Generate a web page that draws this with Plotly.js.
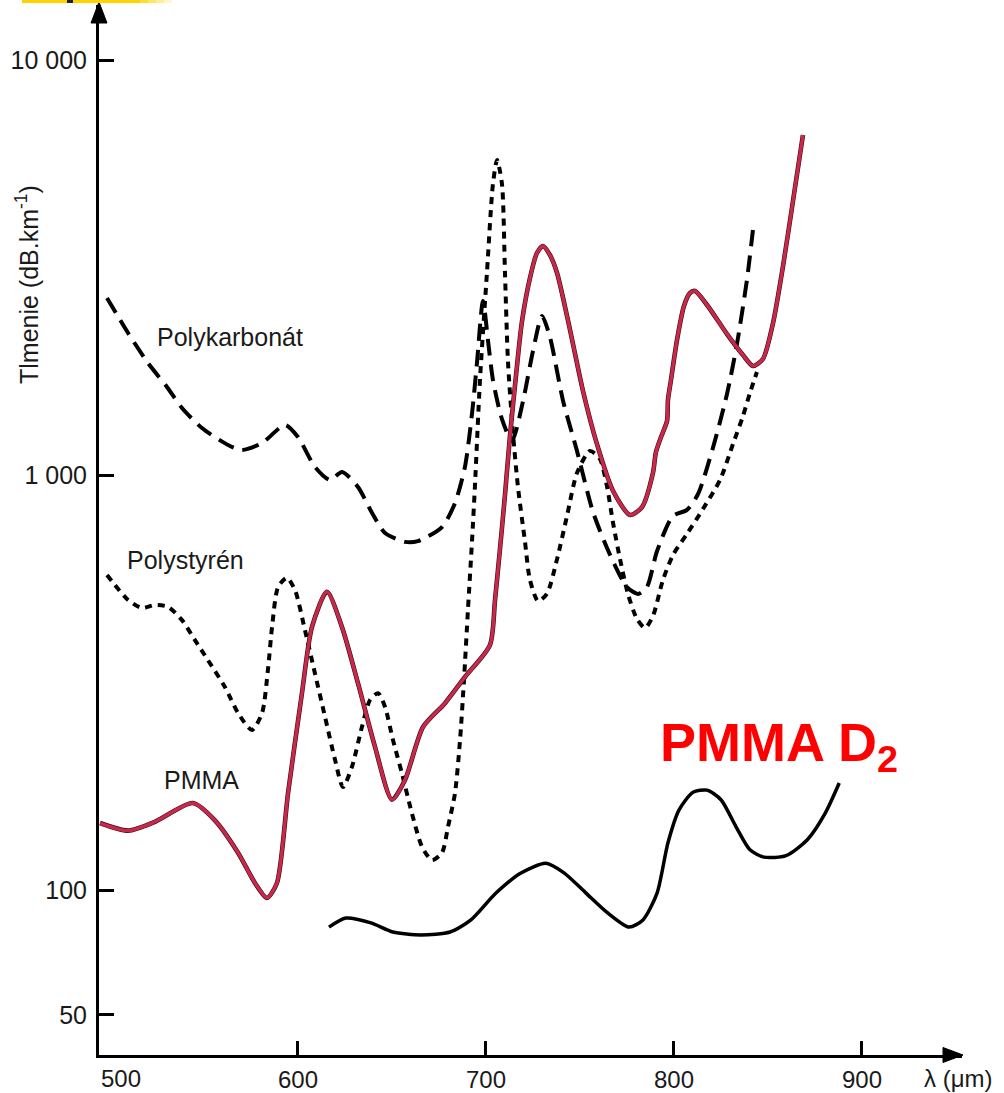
<!DOCTYPE html>
<html>
<head>
<meta charset="utf-8">
<script src="https://cdn.plot.ly/plotly-3.0.1.min.js"></script>
<style>html,body{margin:0;padding:0;background:#fff;}#chart{width:1004px;height:1093px;}</style>
</head>
<body>
<div id="chart"></div>
<script>
// ---- data (wavelength as labelled on the axis, attenuation in dB/km) ----
const pcX = [498.4,509.6,520.2,530.3,538.3,548.9,562.8,570.2,580.9,593.1,600.0,609.0,617.0,623.4,631.9,639.4,646.3,656.9,663.8,676.6,683.5,688.8,692.6,695.2,698.4,701.1,703.7,708.5,713.8,719.7,725.0,729.8,734.0,741.0,748.4,756.9,766.0,775.0,780.9,785.6,791.0,799.5,806.9,812.8,820.7,828.2,833.5,838.8,842.0];
const pcY = [2670,2199,1862,1630,1450,1298,1181,1149,1194,1320,1235,1046,973,1017,936,810,725,690,693,749,856,1046,1410,1862,2626,2103,1694,1364,1208,1508,1990,2416,2151,1508,1143,815,642,537,517,537,656,797,824,900,1162,1567,2069,2950,3894];

const psX = [498.4,509.6,517.0,523.9,530.9,538.3,545.2,552.1,561.2,568.1,575.5,580.9,584.0,586.2,589.4,594.1,598.4,603.7,609.0,614.4,619.7,623.9,628.7,634.0,638.3,642.6,646.3,650.5,655.3,660.6,666.0,671.3,676.6,679.8,683.5,686.2,688.3,690.4,692.6,694.1,696.8,700.5,703.7,705.9,708.5,710.1,711.7,714.4,717.0,720.7,723.4,727.7,732.4,737.8,743.1,748.4,755.3,760.6,764.4,767.6,771.3,775.5,780.3,784.6,788.8,794.1,799.5,806.9,815.4,824.5,831.4,836.7,840.4,844.1];
const psY = [574,500,478,486,481,447,400,358,308,267,243,267,339,430,537,565,528,423,333,261,206,177,198,247,287,298,276,230,191,153,127,118,123,142,171,230,321,473,697,936,1694,3067,5026,5742,5026,3067,1872,1255,936,693,558,497,517,627,797,1011,1143,1093,936,766,627,517,450,428,457,558,642,721,828,973,1188,1387,1576,1771];

const pmX = [494.7,509.6,523.9,544.1,555.9,568.1,577.1,583.5,588.8,594.7,602.1,607.4,615.4,623.4,631.9,641.0,650.0,656.9,666.5,678.2,688.8,702.1,704.8,707.4,710.1,712.8,716.0,719.1,723.4,727.1,730.3,734.0,737.8,744.7,751.6,759.0,767.6,776.6,783.0,788.8,790.4,793.1,796.3,796.8,798.4,801.6,805.3,808.5,811.2,817.6,828.2,836.7,842.0,847.3,852.7,858.0,863.3,868.6];
const pmY = [145,139,146,162,147,123,104,95.7,104,171,298,430,523,430,315,221,165,184,247,282,326,389,500,660,895,1249,1742,2337,2983,3427,3563,3390,3067,2236,1594,1188,915,801,837,1011,1136,1235,1349,1516,1694,2115,2554,2745,2776,2568,2186,1946,1831,1903,2324,3188,4573,6596];

const d2X = [616.5,625.5,638.8,650.5,665.4,680.9,692.0,705.3,718.6,731.9,741.5,753.2,764.4,776.1,783.5,791.0,796.8,802.7,810.1,817.6,825.0,833.0,840.4,847.9,859.6,870.8,880.4,887.9];
const d2Y = [81.4,85.6,83.3,79.2,77.9,79.2,84.7,98.3,109.9,116,110,98.3,88.3,81.4,84.7,98.3,130,156,172,174,165,142,125,120,121,132,153,181];

const xTickVals = [600,700,800,900];
const xTickText = ['600','700','800','900'];
const yTickVals = [50,100,1000,10000];
const yTickText = ['50','100','1 000','10 000'];

// ---- layout helpers (pixel -> paper) ----
const ML = 99, MR = 42, MT = 5, MB = 38, W = 1004, H = 1093;
const PW = W - ML - MR, PH = H - MT - MB;
const X = px => (px - ML) / PW;
const Y = py => 1 - (py - MT) / PH;

const FONT = 'Liberation Sans, Arial, Helvetica, sans-serif';
const INK = '#1a1a1a';
const spline = {shape:'spline', smoothing:0.7};

const traces = [
  {x:pcX, y:pcY, mode:'lines', line:Object.assign({color:'black', width:4, dash:'17px,9px'}, spline), hoverinfo:'skip'},
  {x:psX, y:psY, mode:'lines', line:Object.assign({color:'black', width:4, dash:'7px,6px'}, spline), hoverinfo:'skip'},
  {x:pmX, y:pmY, mode:'lines', line:Object.assign({color:'#3a0c16', width:4.6}, spline), hoverinfo:'skip'},
  {x:pmX, y:pmY, mode:'lines', line:Object.assign({color:'#c8294a', width:3.4}, spline), hoverinfo:'skip'},
  {x:d2X, y:d2Y, mode:'lines', line:Object.assign({color:'black', width:3.5}, spline), hoverinfo:'skip'}
];

function tri(p1, p2, p3) {
  return 'M ' + X(p1[0]) + ',' + Y(p1[1]) + ' L ' + X(p2[0]) + ',' + Y(p2[1]) + ' L ' + X(p3[0]) + ',' + Y(p3[1]) + ' Z';
}
function rect(x0, x1, y0, y1, color, op) {
  return {type:'rect', xref:'paper', yref:'paper', x0:X(x0), x1:X(x1), y0:Y(y1), y1:Y(y0), fillcolor:color, opacity:op, line:{width:0}, layer:'above'};
}

const shapes = [
  {type:'path', xref:'paper', yref:'paper', path:tri([99,2],[91,23],[107,23]), fillcolor:'black', line:{color:'black', width:1}},
  {type:'path', xref:'paper', yref:'paper', path:tri([963,1055],[943,1047.5],[943,1062.5]), fillcolor:'black', line:{color:'black', width:1}},
  rect(22, 67, 0, 3, '#ffd200', 1),
  rect(67, 73, 0, 3, '#222222', 1),
  rect(73, 140, 0, 3, '#ffd200', 1),
  rect(140, 148, 0, 3, '#ffd200', 0.8),
  rect(148, 156, 0, 3, '#ffd200', 0.6),
  rect(156, 164, 0, 3, '#ffd200', 0.4),
  rect(164, 172, 0, 3, '#ffd200', 0.2)
];

const annotations = [
  {text:'Polykarbonát', x:X(155), y:Y(337), xref:'paper', yref:'paper', xanchor:'left', yanchor:'middle', showarrow:false, font:{family:FONT, size:25, color:INK}},
  {text:'Polystyrén', x:X(125), y:Y(560), xref:'paper', yref:'paper', xanchor:'left', yanchor:'middle', showarrow:false, font:{family:FONT, size:25, color:INK}},
  {text:'PMMA', x:X(162), y:Y(780), xref:'paper', yref:'paper', xanchor:'left', yanchor:'middle', showarrow:false, font:{family:FONT, size:25, color:INK}},
  {text:'<b>PMMA D<sub>2</sub></b>', x:X(658), y:Y(746), xref:'paper', yref:'paper', xanchor:'left', yanchor:'middle', showarrow:false, font:{family:FONT, size:54, color:'#ff0000'}},
  {text:'500', x:X(121), y:Y(1078), xref:'paper', yref:'paper', xanchor:'center', yanchor:'middle', showarrow:false, font:{family:FONT, size:24, color:INK}},
  {text:'λ (μm)', x:X(958), y:Y(1078), xref:'paper', yref:'paper', xanchor:'center', yanchor:'middle', showarrow:false, font:{family:FONT, size:24, color:INK}},
  {text:'Tlmenie (dB.km<sup>-1</sup>)', x:X(27), y:Y(285), xref:'paper', yref:'paper', xanchor:'center', yanchor:'middle', textangle:-90, showarrow:false, font:{family:FONT, size:25, color:INK}}
];

const layout = {
  width:W, height:H,
  margin:{l:ML, r:MR, t:MT, b:MB, pad:0},
  paper_bgcolor:'white', plot_bgcolor:'white',
  showlegend:false,
  font:{family:FONT, size:25, color:INK},
  xaxis:{range:[494.15,953.2], showgrid:false, zeroline:false, showline:true, linecolor:'black', linewidth:3,
         ticks:'inside', ticklen:14, tickwidth:3, tickcolor:'black',
         tickmode:'array', tickvals:xTickVals, ticktext:xTickText, tickfont:{family:FONT, size:24, color:INK},
         ticklabelstandoff:1, fixedrange:true},
  yaxis:{type:'log', range:[1.60241,4.13253], showgrid:false, zeroline:false, showline:true, linecolor:'black', linewidth:3,
         ticks:'inside', ticklen:15, tickwidth:3, tickcolor:'black',
         tickmode:'array', tickvals:yTickVals, ticktext:yTickText, tickfont:{family:FONT, size:25, color:INK},
         ticklabelstandoff:4, fixedrange:true},
  shapes:shapes,
  annotations:annotations
};

Plotly.newPlot('chart', traces, layout, {displayModeBar:false, staticPlot:true});
</script>
</body>
</html>
